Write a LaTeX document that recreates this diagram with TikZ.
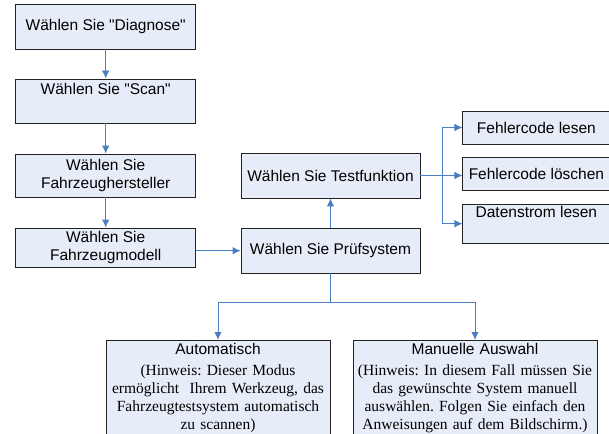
\documentclass[tikz,border=0pt]{standalone}
\usepackage{fontspec}
\setmainfont{Liberation Sans}
\newfontfamily\notefont{Liberation Serif}
\usetikzlibrary{arrows.meta}
\definecolor{boxfill}{RGB}{231,237,248}
\definecolor{boxline}{RGB}{35,35,35}
\definecolor{flowblue}{RGB}{74,126,193}
\frenchspacing
\begin{document}
\begin{tikzpicture}[
			x=1pt, y=-1pt,
			% Define styles for nodes
			stepbox/.style={draw=boxline, fill=boxfill, line width=0.9pt, rectangle, align=center,
				font=\fontsize{15.5}{18}\selectfont, inner sep=0pt},
			notebox/.style={stepbox, anchor=north, inner xsep=2pt, inner ysep=2.5pt},
			flow/.style={draw=flowblue, line width=0.9pt, -{Latex[length=8pt,width=7.5pt]}},
			link/.style={draw=flowblue, line width=0.9pt}
		]
		\useasboundingbox (0,0) rectangle (609,433);
		\clip (0,0) rectangle (609,433);

		% Left column
		\node[stepbox, minimum width=180pt, minimum height=45pt] (diag) at (105.7,26.5) {Wählen Sie \textquotedbl Diagnose\textquotedbl};
		\node[stepbox, minimum width=180pt, minimum height=44pt] (scan) at (105.7,101) {Wählen Sie \textquotedbl Scan\textquotedbl\\ \strut};
		\node[stepbox, minimum width=180pt, minimum height=43pt] (hersteller) at (105.7,175.5) {Wählen Sie\\Fahrzeughersteller};
		\node[stepbox, minimum width=180pt, minimum height=39pt] (modell) at (105.7,247.5) {Wählen Sie\\Fahrzeugmodell};

		% Middle column
		\node[stepbox, minimum width=179pt, minimum height=45pt] (pruef) at (330.5,250.5) {Wählen Sie Prüfsystem};
		\node[stepbox, minimum width=179pt, minimum height=45pt] (testfkt) at (330.5,175.5) {Wählen Sie Testfunktion};

		% Right column
		\node[stepbox, minimum width=147pt, minimum height=33pt] (lesen) at (536.4,127.5) {Fehlercode lesen};
		\node[stepbox, minimum width=147pt, minimum height=33pt] (loeschen) at (536.4,174.2) {Fehlercode löschen};
		\node[stepbox, minimum width=147pt, minimum height=39pt] (daten) at (536.4,223.7) {Datenstrom lesen\\ \strut};

		% Bottom row
		\node[notebox, text width=220pt] (auto) at (218,340) {Automatisch\\[3pt]
			\notefont\fontsize{15.5}{18.1}\selectfont (Hinweis: Dieser Modus\\ermöglicht\ \ Ihrem Werkzeug, das\\Fahrzeugtestsystem automatisch\\zu scannen)};
		\node[notebox, text width=240pt] (manuell) at (475,340) {Manuelle Auswahl\\[3pt]
			\notefont\fontsize{15.5}{18.1}\selectfont (Hinweis: In diesem Fall müssen Sie\\das gewünschte System manuell\\auswählen. Folgen Sie einfach den\\Anweisungen auf dem Bildschirm.)};

		% Connectors
		\draw[flow] (diag) -- (scan);
		\draw[flow] (scan) -- (hersteller);
		\draw[flow] (hersteller) -- (modell);
		\draw[flow] (modell.east |- 0,250.7) -- (pruef.west |- 0,250.7);
		\draw[flow] (pruef) -- (testfkt);

		\coordinate (fork) at (442.7,175.5);
		\draw[flow] (testfkt.east) -- (testfkt.east -| loeschen.west);
		\draw[flow] (fork) |- (lesen.west);
		\draw[flow] (fork) |- (daten.west);

		\coordinate (split) at (330.5,302);
		\draw[link] (pruef.south) -- (split);
		\draw[flow] (split) -| (auto.north);
		\draw[flow] (split) -| (manuell.north);
	\end{tikzpicture}
\end{document}
